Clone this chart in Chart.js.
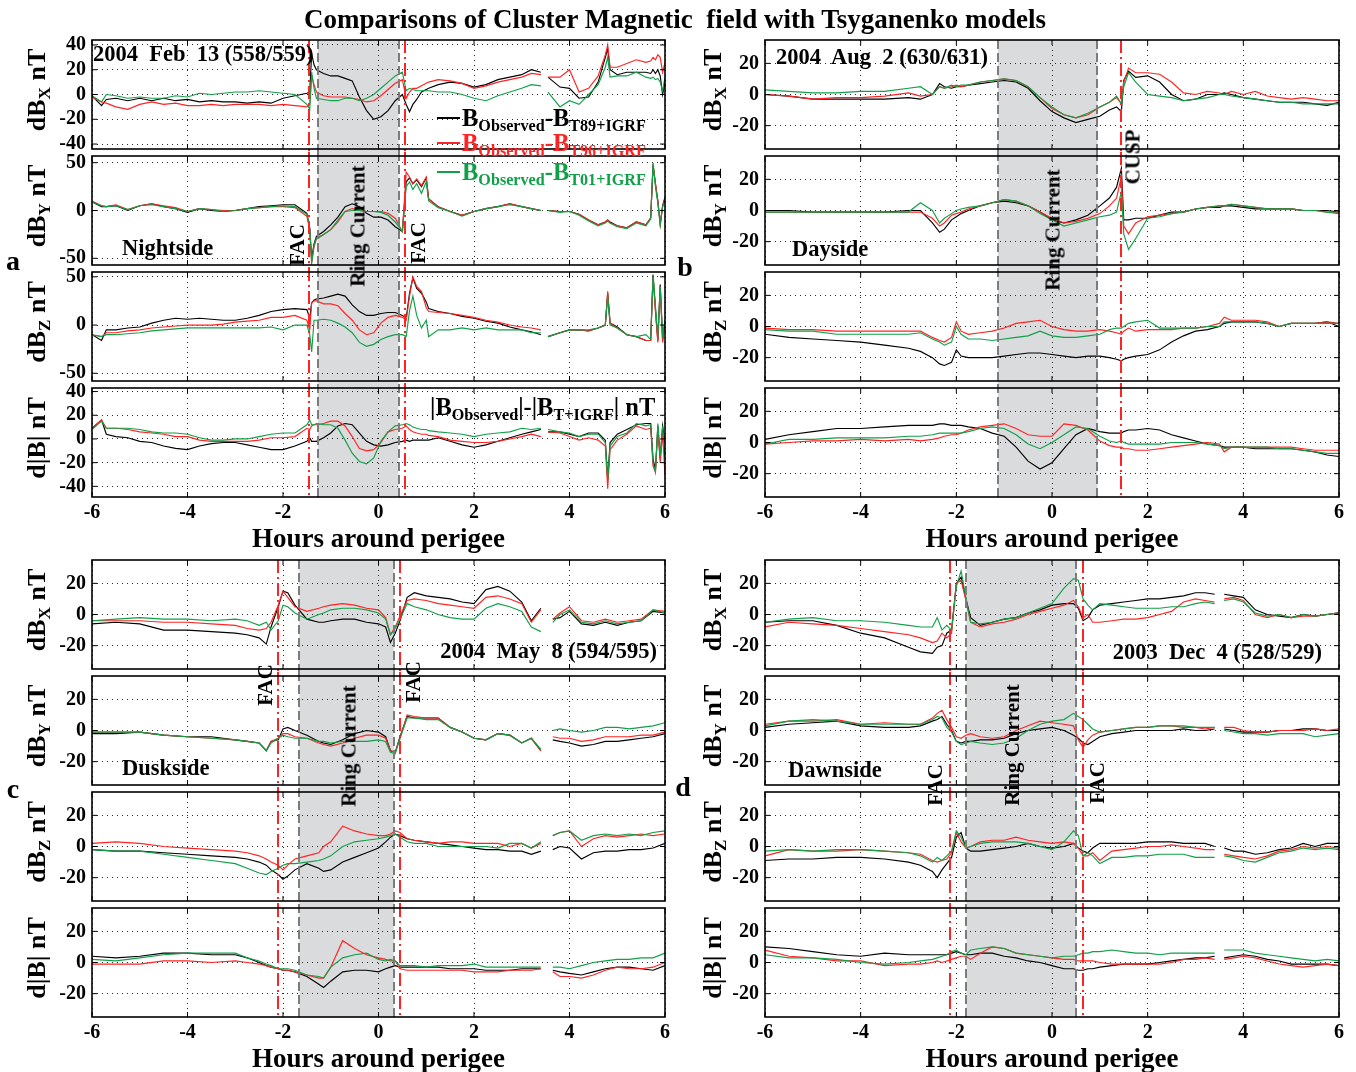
<!DOCTYPE html>
<html>
<head>
<meta charset="utf-8">
<script src="https://cdn.jsdelivr.net/npm/chart.js@4.4.1/dist/chart.umd.min.js"></script>
<style>
  body { margin: 0; background: #fff; }
  #page { position: relative; width: 1356px; height: 1072px; overflow: hidden;
          font-family: "Liberation Serif", "Times New Roman", serif; font-weight: bold; }
  #page canvas { position: absolute; }
  .t { position: absolute; white-space: pre; line-height: 1; color: #000; }
  .t sub { font-size: 66%; vertical-align: -0.3em; line-height: 0; }
  .leg { position: absolute; height: 0; width: 23px; border-top: 2.5px solid #000; }
</style>
</head>
<body>
<div id="page"></div>
<script>
// ---- hours around perigee (one grid per event) ----
const xTicks = [-6, -4, -2, 0, 2, 4, 6];

const hoursA = [-6,-5.8,-5.7,-5.5,-5.25,-5, -4.75,-4.5,-4.25,-4,-3.75,-3.5,-3.25,-3, -2.75,-2.5,-2.25,-2,-1.75,-1.5,
  -1.44,-1.4,-1.35,-1.3,-1.15,-1, -0.85,-0.7,-0.55,-0.4,-0.25,-0.1, 0.05,0.2,0.35,0.5,0.58,0.65, 0.72,0.8,0.9,1,1.05,1.25,
  1.5,1.75,2,2.25,2.5,2.75,3, 3.2,3.4,3.5, 3.55,3.8,4,4.2,4.4,4.6, 4.75,4.8,4.85,5,5.2,5.4,5.6, 5.7,5.75,5.8,5.85,5.9,5.95,6];
const hoursB = [-6,-5.5,-5,-4.5,-4,-3.5,-3, -2.75,-2.5,-2.35,-2.25,-2.1,-2,-1.9,-1.75, -1.5,-1.25,-1,-0.75,-0.5,-0.25,0,0.25,
  0.5,0.75,1,1.2,1.35,1.45,1.5,1.6, 1.75,2,2.25,2.5,2.75,3,3.25,3.5, 3.6,3.75,4,4.25,4.5,4.75,5,5.25,5.5,5.75,6];
const hoursC = [-6,-5.5,-5,-4.5,-4,-3.5,-3, -2.75,-2.5,-2.35,-2.25,-2.1,-2,-1.9,-1.75, -1.5,-1.25,-1.15,-1,-0.75,-0.5,-0.25,0,
  0.15,0.25,0.35,0.45,0.6,0.75,1,1.25, 1.5,1.75,2,2.25,2.5,2.75,3,3.2, 3.4,3.5,3.65, 3.8,4,4.25,4.5,4.75,5,5.25,5.5,5.75,6];
const hoursD = [-6,-5.5,-5,-4.5,-4,-3.5,-3, -2.75,-2.5,-2.4,-2.3,-2.2,-2.1,-2,-1.9, -1.8,-1.7,-1.5,-1.25,-1,-0.75,-0.5,-0.25,
  0,0.25,0.45,0.55,0.65,0.75,0.85,1, 1.25,1.5,1.75,2,2.25,2.5,2.75,3, 3.2,3.4,3.5,3.6, 3.8,4,4.25,4.5,4.75,5,5.25,5.5,5.75,6];

// ---- a: 2004 Feb 13, nightside ----
const aBxBlack = [-1,-9,-4,-3,-5,-3, -5,-3,-5,-4,-6,-5,-6,-6, -7,-6,-7,-3,-1,1, 2,33,24,20,17,15, 15,13,11,-2,-13,-20, -18,-13,-5,0,-8,-14, -8,-4,2,4,5,8, 10,9,6,8,12,14,16, 20,18,null, 14,6,5,-3,-2,10, 30,37,20,16,18,18,18, 17,20,17,20,15,0,10];
const aBxRed = [-2,-6,-7,-10,-12,-8, -6,-8,-7,-9,-9,-8,-9,-8, -8,-8,-9,-8,-9,-10, -8,15,8,2,-1,-2, -2,-2,-3,-4,-6,-5, -1,4,9,12,-3,2, 5,5,7,9,10,12, 11,9,5,7,10,12,14, 17,16,null, 14,14,20,2,5,15, 32,40,22,22,25,28,26, 27,30,28,32,30,18,26];
const aBxGreen = [-1,-6,0,-1,-3,-2, -3,-3,-1,-2,1,0,1,2, 2,3,2,1,0,-8, -12,18,5,-3,-4,-5, -5,-3,-3,-5,-3,0, 5,10,15,18,3,5, 4,3,3,3,3,2, 2,0,-3,-5,-1,2,5, 8,7,null, 2,-10,-5,-8,0,8, 22,30,14,15,15,18,14, 13,14,12,13,10,3,14];
const aByBlack = [9,4,4,5,0,5, 7,4,2,-2,2,0,-1,0, 2,4,5,6,6,-3, -18,-50,-35,-27,-22,-15, -7,4,7,4,-3,-7, -7,-10,-17,-22,30,34, 28,32,25,34,12,4, -1,-5,-1,2,4,7,4, 2,0,null, 0,-1,-1,-4,-10,-15, -12,-10,-12,-16,-18,-12,-15, -8,48,28,10,-14,5,14];
const aByRed = [10,5,4,6,1,5, 7,5,3,-1,2,1,0,0, 2,3,4,4,3,-6, -20,-55,-38,-30,-25,-20, -12,-1,2,0,-1,-1, -1,-3,-8,-22,40,35, 28,33,26,35,12,4, -1,-5,-1,2,4,7,4, 2,0,null, 0,-1,-1,-4,-10,-15, -12,-10,-13,-16,-18,-12,-15, -8,47,28,10,-15,4,12];
const aByGreen = [9,5,4,5,1,5, 6,4,2,-1,2,1,-1,0, 2,3,4,5,4,-4, -19,-55,-36,-29,-25,-20, -10,-1,0,0,-1,-1, -2,-5,-12,-22,25,30, 22,28,18,30,10,3, -1,-6,-1,2,4,6,4, 2,0,null, 0,-2,-1,-5,-11,-16, -13,-11,-13,-17,-19,-13,-16, -9,50,25,8,-15,4,10];
const aBzBlack = [-10,-16,-5,-5,-3,-2, 2,5,7,6,7,6,5,5, 7,10,14,16,17,16, 7,23,26,27,28,30, 32,30,21,14,10,10, 12,13,13,10,7,33, 49,38,33,24,17,14, 12,9,7,4,2,-2,-5, -7,-10,null, -12,-8,-5,-5,-6,-3, 0,33,2,-2,-10,-12,-16, -16,52,16,-16,42,-16,5];
const aBzRed = [-10,-12,-8,-8,-6,-5, -3,-2,-1,0,0,0,1,3, 4,5,8,8,10,5, -5,23,25,25,22,22, 20,12,5,-5,-10,-8, 2,8,10,8,5,30, 50,40,35,18,14,13, 12,10,8,5,3,0,-2, -3,-5,null, -12,-8,-5,-5,-6,-3, 0,35,2,-3,-10,-12,-16, -16,50,14,-18,40,-18,3];
const aBzGreen = [-10,-12,-10,-10,-9,-8, -6,-5,-4,-3,-3,-3,-3,-3, -3,-3,-2,-5,0,0, -10,-28,5,5,6,5, 2,-2,-8,-18,-22,-20, -15,-12,-10,-10,-12,15, 30,10,-3,5,-12,-5, -5,-3,-5,-3,-5,-5,-5, -8,-8,null, -12,-8,-5,-5,-5,-3, 0,30,0,-3,-10,-12,-10, -15,52,20,-12,40,-10,5];
const aBtBlack = [9,16,4,2,1,-2, -3,-6,-8,-9,-6,-4,-3,-3, -5,-7,-9,-9,-6,-2, 1,-2,-2,-2,1,5, 11,13,12,5,-2,-5, -6,-5,-3,-2,-1,-2, -1,-1,-1,-1,-1,1, -2,-5,-7,-5,-2,1,4, 6,8,null, 6,6,4,2,5,5, -1,-34,-3,4,8,12,13, 13,-17,-26,11,-17,11,-3];
const aBtRed = [9,16,9,9,8,6, 5,4,2,2,-1,-2,-2,-2, -2,-1,1,1,2,9, 8,11,12,12,13,15, 15,11,2,-8,-10,-9, -3,6,8,9,11,8, 6,5,4,4,3,2, -1,-2,-3,-3,-2,0,2, 4,2,null, 6,5,2,-1,1,-1, -6,-42,-9,-1,4,11,8, 9,-23,-28,8,-20,5,-31];
const aBtGreen = [8,15,9,9,9,8, 6,5,5,4,1,-1,-1,0, 0,2,4,5,5,12, 16,12,12,13,12,12, 9,-1,-12,-19,-21,-16, -2,6,11,12,13,12, 10,9,8,8,7,6, 5,4,2,4,5,6,9, 8,9,null, 8,6,5,2,4,4, -3,-34,-6,2,5,13,11, 12,-20,-28,13,-14,11,-17];

// ---- b: 2004 Aug 2, dayside ----
const bBxBlack = [0,-1,-3,-3,-3,-3,-2, -3,0,7,5,4,5,5,6, 7,8,9,8,4,-4,-11,-15, -18,-16,-14,-10,-8,-11,9,15, 11,12,8,0,-4,-3,0,0, 1,0,-2,-3,-4,-5,-5,-5,-6,-7,-5];
const bBxRed = [0,-1,-3,-2,-2,-1,1, -1,0,5,4,5,6,5,6, 8,9,10,9,5,-2,-9,-13, -15,-13,-8,-5,-2,-6,8,17, 14,14,13,8,1,0,2,1, 0,2,0,2,-1,-2,-3,-2,-3,-4,-4];
const bBxGreen = [3,2,1,1,2,2,4, 5,0,5,4,6,5,6,6, 8,9,10,9,5,-2,-8,-13, -15,-12,-8,-5,-1,-6,5,14, 8,0,-1,-2,-4,-3,-2,0, 0,-1,-2,-3,-4,-5,-5,-6,-6,-6,-6];
const bByBlack = [0,0,-1,-1,-1,-1,0, 0,-8,-14,-12,-6,-4,-2,0, 3,5,6,5,3,-1,-6,-8, -6,-3,3,8,15,27,-6,-6, -5,-5,-3,-1,-1,1,2,2, 3,3,2,1,1,1,1,0,0,0,-1];
const bByRed = [-1,-1,-1,-1,-1,-1,-1, -1,-5,-10,-8,-3,-2,-1,1, 3,5,7,6,3,-1,-5,-8, -7,-5,-2,3,8,22,-10,-15, -8,-4,-3,-2,-1,1,2,3, 3,4,3,2,1,1,1,0,0,-1,-1];
const bByGreen = [-1,-1,-1,-1,-1,-1,-1, 5,0,-8,-5,-2,0,1,2, 3,5,7,6,3,-2,-6,-10, -8,-6,-4,-3,-1,12,-15,-25, -18,-5,-4,-2,-1,1,2,3, 3,4,3,2,1,1,1,0,0,-1,-2];
const bBzBlack = [-5,-7,-8,-9,-10,-12,-14, -16,-20,-24,-25,-23,-15,-19,-20, -20,-20,-19,-18,-17,-17,-18,-19, -20,-19,-19,-20,-21,-22,-21,-20, -19,-18,-15,-10,-6,-3,-2,0, 2,3,3,3,2,0,2,2,2,3,0];
const bBzRed = [-1,-2,-2,-3,-3,-3,-3, -3,-7,-9,-10,-7,3,-3,-5, -4,-3,-1,2,3,4,0,-2, -3,-3,-2,-3,-4,-5,-3,-1, -3,-2,-2,-2,-1,-1,0,2, 6,4,4,4,3,0,2,2,2,3,2];
const bBzGreen = [-2,-3,-3,-5,-5,-5,-5, -4,-8,-10,-12,-10,0,-5,-8, -8,-9,-8,-7,-6,-3,-6,-7, -7,-6,-5,-2,-1,-1,0,2, 3,4,-1,-1,-1,-1,0,0, 3,3,3,3,2,0,2,2,2,2,2];
const bBtBlack = [2,5,7,9,9,10,11, 11,11,12,12,11,11,11,10, 9,6,4,-3,-12,-17,-13,-4, 5,9,7,6,6,6,7,8, 8,9,8,5,3,1,-1,-2, -3,-3,-3,-4,-4,-4,-4,-5,-6,-8,-9];
const bBtRed = [-1,0,1,1,2,1,2, 1,2,3,4,5,5,6,8, 10,11,12,9,5,4,4,12, 11,8,1,-2,-3,-3,-4,-4, -5,-5,-4,-3,-2,-1,0,-1, -6,-3,-3,-3,-3,-3,-3,-4,-5,-5,-5];
const bBtGreen = [-1,2,2,3,3,3,4, 4,5,6,6,6,6,6,7, 9,10,9,5,-1,-4,0,5, 10,9,4,1,0,1,0,-1, -1,-1,-1,0,0,0,-1,-2, -4,-3,-3,-3,-3,-4,-4,-5,-6,-7,-7];

// ---- c: 2004 May 8, duskside ----
const cBxBlack = [-6,-5,-6,-10,-10,-11,-12, -13,-15,-19,-8,5,15,14,6, -3,-5,-5,-4,-3,-3,-5,-6, -8,-18,-12,-4,11,14,12,11, 10,8,7,16,18,15,8,-4, 4,null,-3, -2,2,-6,-7,-5,-7,-5,-4,2,1];
const cBxRed = [-4,-4,-4,-5,-5,-6,-7, -9,-10,-9,-5,6,15,11,5, 2,4,5,6,7,6,4,3, -2,-13,-8,-1,9,10,9,7, 6,5,4,11,12,10,7,-5, 3,null,-3, 1,5,-4,-5,-3,-5,-4,-3,3,2];
const cBxGreen = [-4,-3,-2,-3,-3,-4,-3, -4,-7,-5,-10,-4,6,5,1, -3,0,1,3,4,4,3,1, -3,-13,-9,-3,7,5,3,0, -2,-3,-3,4,7,5,2,-8, -11,null,-5, 0,3,-5,-6,-4,-6,-5,-4,3,1];
const cByBlack = [-2,-2,-1,-3,-4,-4,-6, -7,-8,-13,-7,-6,1,2,0, -3,-7,-8,-9,-6,-2,0,-1, -4,-13,-14,-4,9,8,8,8, 2,-1,-5,-6,-2,-3,-8,-5, -13,null,-6, -7,-8,-10,-9,-7,-7,-6,-5,-4,-2];
const cByRed = [-1,-1,-1,-3,-4,-5,-6, -7,-8,-13,-7,-5,-2,-2,-4, -5,-8,-9,-10,-8,-5,-3,-3, -5,-13,-14,-5,10,9,8,8, 2,-1,-5,-6,-2,-3,-8,-5, -13,null,-4, -5,-5,-7,-6,-4,-4,-4,-3,-3,-1];
const cByGreen = [-1,-1,-1,-3,-4,-5,-6, -7,-8,-13,-8,-5,-3,-4,-5, -5,-7,-7,-8,-7,-7,-7,-6, -7,-14,-15,-5,8,8,7,7, 2,-1,-5,-6,-2,-3,-8,-5, -12,null,0, 1,0,-1,0,2,2,1,2,3,5];
const cBzBlack = [-2,-3,-3,-4,-5,-6,-7, -8,-10,-12,-15,-18,-21,-19,-15, -11,-14,-16,-15,-10,-7,-4,-1, 3,6,8,7,5,4,3,2, 1,0,-1,-2,-2,-3,-3,-5, -3,null,-2, 0,-1,-8,-4,-3,-3,-2,-2,-1,2];
const cBzRed = [2,3,2,0,-1,-2,-3, -4,-6,-8,-10,-12,-15,-12,-8, -6,-4,0,3,13,10,8,7, 7,8,10,9,5,4,3,2, 3,3,2,2,2,0,2,-1, 2,null,7, 9,10,0,5,7,6,7,8,7,8];
const cBzGreen = [-2,-3,-3,-5,-7,-9,-11, -14,-17,-18,-16,-14,-12,-11,-11, -10,-9,-8,-6,0,3,4,5, 6,7,8,6,3,2,2,0, 0,0,0,0,-1,2,2,-1, 3,null,7, 9,10,4,7,8,7,8,7,9,10];
const cBtBlack = [4,3,4,6,6,5,5, 3,0,-2,-3,-4,-5,-5,-6, -9,-14,-16,-12,-6,-5,-5,-6, -4,-3,-2,-3,-3,-3,-3,-3, -4,-4,-4,-5,-5,-5,-4,-4, -4,null,-5, -6,-7,-8,-6,-4,-3,-3,-4,-5,-2];
const cBtRed = [-1,-1,-1,1,1,0,1, 0,-1,-2,-3,-4,-5,-5,-6, -8,-10,-10,-3,14,9,5,3, 2,1,1,-4,-5,-5,-5,-5, -5,-5,-6,-6,-6,-5,-5,-5, -4,null,-6, -9,-9,-10,-8,-5,-3,-4,-4,-3,0];
const cBtGreen = [2,1,3,5,6,6,6, 3,1,-1,-2,-4,-4,-4,-5, -8,-9,-10,-3,3,5,6,2, 1,2,1,-2,-2,-2,-3,-2, -2,-2,-1,-3,-3,-3,-3,-3, -3,null,-3, -3,-4,-2,0,1,2,2,3,3,6];

// ---- d: 2003 Dec 4, dawnside ----
const dBxBlack = [-5,-4,-4,-7,-12,-15,-21, -24,-25,-21,-20,-12,-10,20,24, 10,-2,-7,-5,-3,-2,1,3, 6,7,7,4,-4,-2,3,6, 7,8,9,10,10,11,12,14, 14,13,null,13, 12,11,3,0,-1,-2,0,-1,0,1];
const dBxRed = [-8,-5,-6,-7,-9,-11,-13, -15,-18,-17,-12,-15,-12,20,22, 9,-5,-8,-6,-5,-3,0,2, 4,6,9,5,-2,0,-5,-5, -4,-3,-3,-2,0,2,8,10, 9,8,null,10, 11,9,0,-2,0,-2,-1,-1,0,1];
const dBxGreen = [-5,-3,-2,-4,-4,-5,-7, -8,-8,-2,-10,-7,-10,18,28, 11,-5,-6,-5,-3,-2,1,4, 7,17,23,22,10,6,3,7, 6,5,4,4,4,5,5,7, 8,7,null,9, 10,8,1,-1,0,-2,0,-1,0,1];
const dByBlack = [2,4,5,6,3,2,2, 3,6,7,9,4,0,-7,-8, -7,-7,-6,-6,-5,-2,0,1, 2,0,-3,-5,-8,-9,-7,-4, -2,-1,0,0,0,0,1,0, 0,1,null,1, 0,-1,-1,-1,0,0,1,1,0,0];
const dByRed = [4,6,6,7,4,5,4, 4,8,11,13,7,2,-4,-5, -3,-2,-4,-5,-4,0,3,6, 5,4,3,-6,-11,-6,-3,-1, 0,1,2,2,3,3,2,2, 1,2,null,2, 2,0,-1,-1,0,0,0,1,0,1];
const dByGreen = [3,6,7,6,4,4,4, 4,7,9,8,2,-1,-7,-9, -8,-7,-8,-9,-8,-5,0,4, 6,7,11,9,7,4,1,-1, 0,1,2,2,3,3,3,2, 2,2,null,0, -1,-2,-2,-3,-2,-2,-2,-4,-3,-2];
const dBzBlack = [-9,-8,-8,-7,-7,-8,-10, -12,-16,-20,-15,-11,-7,6,9, -1,-3,-3,-2,-1,0,2,0, -1,0,2,-1,-3,-4,-1,2, 2,2,2,3,3,3,2,2, 2,0,null,-1, -3,-3,-5,-4,-2,-1,2,0,2,2];
const dBzRed = [-6,-2,-3,-3,-2,-3,-4, -5,-9,-10,-9,-8,-4,9,3, -1,0,3,4,4,6,4,3, 2,3,2,-1,-6,-6,-4,-9, -3,-2,-1,0,0,1,0,-1, -2,-2,null,-5, -6,-7,-8,-6,-3,-2,0,-1,0,-1];
const dBzGreen = [-3,-2,-3,-2,-2,-3,-4, -6,-10,-7,-9,-6,-3,10,6, -1,0,2,3,3,3,2,0, -2,3,10,7,-6,-4,-6,-11, -7,-7,-6,-6,-5,-5,-5,-7, -7,-7,null,-6, -7,-9,-10,-7,-4,-3,-1,-2,-1,-2];
const dBtBlack = [10,9,7,5,4,6,5, 5,5,5,5,5,6,7,6, 5,5,6,6,4,3,1,0, -2,-4,-4,-5,-5,-4,-4,-3, -2,-1,-1,-1,0,1,2,3, 3,4,null,3, 4,5,4,2,1,-1,-1,-1,-1,-2];
const dBtRed = [8,4,3,1,1,-2,-1, -1,0,1,0,1,2,3,4, 4,2,6,10,9,6,5,4, 3,2,2,1,1,1,1,0, -1,-1,-1,-1,-1,0,2,2, 3,2,null,2, 3,4,3,1,-1,-2,-3,-2,-1,-2];
const dBtGreen = [5,3,3,2,0,-1,0, 1,2,3,4,5,7,8,6, 5,8,9,10,9,6,5,4, 3,4,4,5,6,6,7,7, 8,7,6,6,5,6,6,6, 6,6,null,8, 8,8,6,5,4,3,2,1,2,1];

// ---- marked intervals (hours) ----
const ringA = [-1.27, 0.42], facA = [-1.45, 0.55];
const ringB = [-1.13, 0.95], cuspB = [1.45];
const ringC = [-1.66, 0.32], facC = [-2.11, 0.44];
const ringD = [-1.79, 0.51], facD = [-2.13, 0.64];

// ---- y ranges / ticks ----
const yRangeA = [[-44, 44], [-57, 57], [-58, 55], [-49, 43]];
const yTicksA = [[-40, -20, 0, 20, 40], [-50, 0, 50], [-50, 0, 50], [-40, -20, 0, 20, 40]];
const yRange35 = [-35, 35];
const yTicks20 = [-20, 0, 20];

const page = document.getElementById("page");
const FONT = '"Liberation Serif", "Times New Roman", serif';
const BLACK = "#000", RED = "#ff2323", GREEN = "#10a048";
const AX = 80, PR = 10, PC = 14, EXT = 4, XH = 30, PH = 109;

function pts(xs, ys) {
  return xs.map((x, i) => ({ x: x, y: ys[i] }));
}

const marks = {
  id: "marks",
  beforeDraw(chart, args, o) {
    if (!o.shade) return;
    const { ctx, chartArea: ca, scales: { x } } = chart;
    const y0 = o.first ? ca.top : ca.top - EXT;
    const y1 = o.last ? ca.bottom : ca.bottom + EXT;
    const x0 = x.getPixelForValue(o.shade[0]), x1 = x.getPixelForValue(o.shade[1]);
    ctx.save();
    ctx.fillStyle = "#dadbdd";
    ctx.fillRect(x0, y0, x1 - x0, y1 - y0);
    ctx.restore();
  },
  afterDatasetsDraw(chart, args, o) {
    const { ctx, chartArea: ca, scales: { x } } = chart;
    const y0 = o.first ? ca.top : ca.top - EXT;
    const y1 = o.last ? ca.bottom : ca.bottom + EXT;
    const vline = (v) => {
      const px = Math.round(x.getPixelForValue(v));
      ctx.beginPath(); ctx.moveTo(px, y0); ctx.lineTo(px, y1); ctx.stroke();
    };
    ctx.save();
    ctx.lineWidth = 2;
    ctx.strokeStyle = "#7c7c7c";
    ctx.setLineDash([9, 4]);
    (o.shade || []).forEach(vline);
    ctx.strokeStyle = RED;
    ctx.setLineDash([13, 4, 2, 4]);
    (o.fac || []).forEach(vline);
    ctx.restore();
  },
  afterDraw(chart) {
    // box and inward tick marks
    const { ctx, chartArea: ca, scales: { x, y } } = chart;
    ctx.save();
    ctx.setLineDash([]);
    ctx.strokeStyle = "#000";
    ctx.lineWidth = 1;
    ctx.beginPath();
    y.ticks.forEach(t => {
      const py = y.getPixelForValue(t.value);
      ctx.moveTo(ca.left, py); ctx.lineTo(ca.left + 5, py);
      ctx.moveTo(ca.right, py); ctx.lineTo(ca.right - 5, py);
    });
    x.ticks.forEach(t => {
      const px = x.getPixelForValue(t.value);
      ctx.moveTo(px, ca.top); ctx.lineTo(px, ca.top + 5);
      ctx.moveTo(px, ca.bottom); ctx.lineTo(px, ca.bottom - 5);
    });
    ctx.stroke();
    ctx.lineWidth = 1.6;
    ctx.strokeRect(ca.left, ca.top, ca.right - ca.left, ca.bottom - ca.top);
    ctx.restore();
  }
};

function makePanel(q, row) {
  const first = row === 0, last = row === 3;
  const w = q.right - q.left + AX + PR;
  const h = PH + 2 * PC + (last ? XH : 0);
  const cv = document.createElement("canvas");
  cv.width = w; cv.height = h;
  cv.style.left = (q.left - AX) + "px";
  cv.style.top = (q.tops[row] - PC) + "px";
  page.appendChild(cv);

  const s = q.rows[row];
  const yr = q.yRange[row], yt = q.yTicks[row];
  const tickFont = { family: FONT, size: 20, weight: "bold" };

  new Chart(cv, {
    type: "line",
    data: {
      datasets: [
        { data: pts(q.hours, s[2]), borderColor: GREEN },
        { data: pts(q.hours, s[1]), borderColor: RED },
        { data: pts(q.hours, s[0]), borderColor: BLACK }
      ]
    },
    options: {
      responsive: false,
      animation: false,
      events: [],
      elements: { point: { radius: 0 }, line: { borderWidth: 1.15, tension: 0 } },
      layout: { padding: { top: PC, bottom: PC, left: 0, right: PR } },
      plugins: {
        legend: { display: false },
        tooltip: { enabled: false },
        marks: { shade: q.shade, fac: q.fac, first: first, last: last }
      },
      scales: {
        x: {
          type: "linear", min: -6, max: 6,
          afterBuildTicks: sc => { sc.ticks = xTicks.map(v => ({ value: v })); },
          afterFit: sc => { sc.height = last ? XH : 0; sc.paddingLeft = 0; sc.paddingRight = 0; },
          ticks: { display: last, padding: 4, color: "#000", font: tickFont, maxRotation: 0, autoSkip: false },
          grid: { color: "#2a2a2a", lineWidth: 1, drawTicks: false },
          border: { display: false, dash: [1, 4] }
        },
        y: {
          min: yr[0], max: yr[1],
          afterBuildTicks: sc => { sc.ticks = yt.map(v => ({ value: v })); },
          afterFit: sc => { sc.width = AX; sc.paddingTop = 0; sc.paddingBottom = 0; },
          ticks: { padding: 6, color: "#000", font: tickFont },
          grid: { color: "#2a2a2a", lineWidth: 1, drawTicks: false },
          border: { display: false, dash: [1, 4] }
        }
      }
    },
    plugins: [marks]
  });
}

const quads = [
  { hours: hoursA, left: 92, right: 665, tops: [40, 156, 272, 388], shade: ringA, fac: facA,
    yRange: yRangeA, yTicks: yTicksA,
    rows: [[aBxBlack, aBxRed, aBxGreen], [aByBlack, aByRed, aByGreen], [aBzBlack, aBzRed, aBzGreen], [aBtBlack, aBtRed, aBtGreen]] },
  { hours: hoursB, left: 765, right: 1339, tops: [40, 156, 272, 388], shade: ringB, fac: cuspB,
    yRange: [yRange35, yRange35, yRange35, yRange35], yTicks: [yTicks20, yTicks20, yTicks20, yTicks20],
    rows: [[bBxBlack, bBxRed, bBxGreen], [bByBlack, bByRed, bByGreen], [bBzBlack, bBzRed, bBzGreen], [bBtBlack, bBtRed, bBtGreen]] },
  { hours: hoursC, left: 92, right: 665, tops: [560, 676, 792, 908], shade: ringC, fac: facC,
    yRange: [yRange35, yRange35, yRange35, yRange35], yTicks: [yTicks20, yTicks20, yTicks20, yTicks20],
    rows: [[cBxBlack, cBxRed, cBxGreen], [cByBlack, cByRed, cByGreen], [cBzBlack, cBzRed, cBzGreen], [cBtBlack, cBtRed, cBtGreen]] },
  { hours: hoursD, left: 765, right: 1339, tops: [560, 676, 792, 908], shade: ringD, fac: facD,
    yRange: [yRange35, yRange35, yRange35, yRange35], yTicks: [yTicks20, yTicks20, yTicks20, yTicks20],
    rows: [[dBxBlack, dBxRed, dBxGreen], [dByBlack, dByRed, dByGreen], [dBzBlack, dBzRed, dBzGreen], [dBtBlack, dBtRed, dBtGreen]] }
];

quads.forEach(q => { for (let r = 0; r < 4; r++) makePanel(q, r); });

// ---- text ----
function label(html, x, y, size, opt) {
  opt = opt || {};
  const d = document.createElement("div");
  d.className = "t";
  d.innerHTML = html;
  d.style.fontSize = size + "px";
  d.style.left = x + "px";
  d.style.top = y + "px";
  const ax = opt.align === "left" ? "0" : opt.align === "right" ? "-100%" : "-50%";
  d.style.transform = "translate(" + ax + ", -50%)" + (opt.rot ? " rotate(-90deg)" : "");
  if (opt.color) d.style.color = opt.color;
  page.appendChild(d);
}

const yTitles = ["dB<sub>X</sub> nT", "dB<sub>Y</sub> nT", "dB<sub>Z</sub> nT", "d|B| nT"];
quads.forEach(q => {
  const cx = q.left < 400 ? 37 : 713;
  q.tops.forEach((t, r) => label(yTitles[r], cx, t + PH / 2 - 5, 26, { rot: true }));
  label("Hours around perigee", (q.left + q.right) / 2, q.tops[3] + PH + 41, 27);
});

label("Comparisons of Cluster Magnetic  field with Tsyganenko models", 675, 19, 27);

label("2004  Feb  13 (558/559)", 93, 54, 22.5, { align: "left" });
label("2004  Aug  2 (630/631)", 776, 57, 22.5, { align: "left" });
label("2004  May  8 (594/595)", 657, 651, 22.5, { align: "right" });
label("2003  Dec  4 (528/529)", 1322, 652, 22.5, { align: "right" });

label("Nightside", 122, 248, 22.5, { align: "left" });
label("Dayside", 792, 249, 22.5, { align: "left" });
label("Duskside", 122, 768, 22.5, { align: "left" });
label("Dawnside", 788, 770, 22.5, { align: "left" });

label("|B<sub>Observed</sub>|-|B<sub>T+IGRF</sub>| nT", 430, 407, 24.5, { align: "left" });

label("a", 13, 261, 28);
label("b", 685, 267, 28);
label("c", 13, 789, 28);
label("d", 683, 787, 28);

label("FAC", 297, 245, 21, { rot: true });
label("FAC", 418, 243, 21, { rot: true });
label("Ring Current", 358, 226, 21, { rot: true });
label("CUSP", 1133, 157, 21, { rot: true });
label("Ring Current", 1053, 230, 21, { rot: true });
label("FAC", 265, 685, 21, { rot: true });
label("FAC", 413, 682, 21, { rot: true });
label("Ring Current", 349, 746, 21, { rot: true });
label("FAC", 935, 785, 21, { rot: true });
label("Ring Current", 1012, 745, 21, { rot: true });
label("FAC", 1097, 783, 21, { rot: true });

// legend
const legend = [
  ["B<sub>Observed</sub>-B<sub>T89+IGRF</sub>", BLACK, 118],
  ["B<sub>Observed</sub>-B<sub>T96+IGRF</sub>", RED, 143],
  ["B<sub>Observed</sub>-B<sub>T01+IGRF</sub>", GREEN, 172]
];
legend.forEach(([txt, col, y]) => {
  const ln = document.createElement("div");
  ln.className = "leg";
  ln.style.left = "437px";
  ln.style.top = (y - 1) + "px";
  ln.style.borderTopColor = col;
  page.appendChild(ln);
  label(txt, 462, y, 24.5, { align: "left", color: col });
});
</script>
</body>
</html>
